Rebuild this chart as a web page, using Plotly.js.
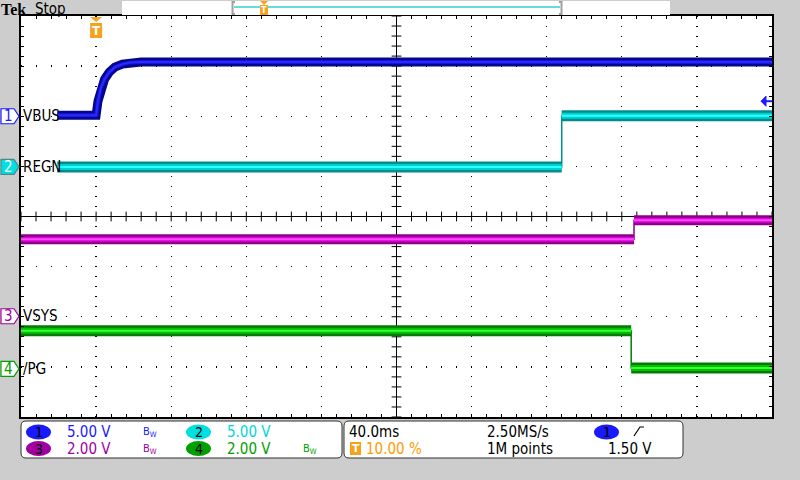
<!DOCTYPE html>
<html><head><meta charset="utf-8">
<script src="https://cdn.plot.ly/plotly-3.0.1.min.js"></script>
<style>html,body{margin:0;padding:0;background:#cdcdcd;}#chart{width:800px;height:480px;}</style>
</head><body><div id="chart"></div>
<script>
// ---- data ----
const channelNames = ['VBUS', 'REGN', 'VSYS', '/PG'];
const channelScales = [5, 5, 2, 2];            // V/div
const channelOffsets = [2.0, 0.99, -1.99, -3.04]; // ground position, divisions
const vbusTime = [-20.7, 0, 1, 2.5, 4.5, 7, 10, 14, 18, 24, 360];      // ms
const vbusVolts = [0.1, 0.1, 1.5, 2.8, 3.7, 4.4, 4.9, 5.2, 5.35, 5.4, 5.4];
const regnTime = [-20.7, 248, 248, 360];
const regnVolts = [0, 0, 5.1, 5.1];
const vsysTime = [-40, 286.5, 286.5, 360];
const vsysVolts = [3.07, 3.07, 3.83, 3.83];
const pgTime = [-40, 285, 285, 360];
const pgVolts = [1.52, 1.52, 0.04, 0.04];
const scaleLabels = ['5.00 V', '5.00 V', '2.00 V', '2.00 V'];
const timeScaleLabel = '40.0ms';
const sampleRateLabel = '2.50MS/s';
const triggerPosLabel = '10.00 %';
const recordLabel = '1M points';
const triggerLevelLabel = '1.50 V';
const triggerLevelVolts = 1.5;

// ---- styling ----
const outerColors = ['#06068a', '#008c8c', '#8c0084', '#067a06'];
const midColors   = ['#1414d8', '#00cfcf', '#dc00dc', '#00c000'];
const coreColors  = ['#2a2aff', '#30ffff', '#ff4cff', '#3cff3c'];
const bandWidths  = [9, 11, 10, 11];
const badgeColors = ['#1a1aff', '#00e0e0', '#a000a0', '#00a000'];
const textColors  = ['#1a1aff', '#00d8d8', '#a000a0', '#00a000'];
const F = 'Liberation Sans Narrow, DejaVu Sans Condensed, Liberation Sans, sans-serif';

const L = 21, R = 772, T = 16, B = 417;
const px = p => (p - L) / (R - L);
const py = p => (B - p) / (B - T);

const series = [[vbusTime, vbusVolts], [regnTime, regnVolts], [vsysTime, vsysVolts], [pgTime, pgVolts]];

function toDiv(ch, v) { return v.map(x => x / channelScales[ch] + channelOffsets[ch]); }
function splitJumps(t, y) {
  const xs = [], ys = [];
  for (let i = 0; i < t.length; i++) {
    if (i > 0 && t[i] === t[i - 1]) { xs.push(null); ys.push(null); }
    xs.push(t[i]); ys.push(y[i]);
  }
  return [xs, ys];
}

const traces = [];
// crosshair ticks
const tickX = [], tickY0 = [];
for (let k = 0; k <= 50; k++) { tickX.push(-40 + 8 * k); tickY0.push(0); }
const tickY = [], tickX0 = [];
for (let k = 0; k <= 40; k++) { tickY.push(-4 + 0.2 * k); tickX0.push(160); }
traces.push({x: tickX, y: tickY0, mode: 'markers', hoverinfo: 'skip', showlegend: false,
  marker: {symbol: 'line-ns', size: 7, line: {width: 1, color: '#000'}}});
traces.push({x: tickX0, y: tickY, mode: 'markers', hoverinfo: 'skip', showlegend: false,
  marker: {symbol: 'line-ew', size: 7, line: {width: 1, color: '#000'}}});

series.forEach((s, ch) => {
  const yd = toDiv(ch, s[1]);
  const [sx, sy] = splitJumps(s[0], yd);
  traces.push({x: s[0], y: yd, mode: 'lines', line: {color: outerColors[ch], width: 1.5}, hoverinfo: 'skip', showlegend: false});
  traces.push({x: sx, y: sy, mode: 'lines', line: {color: outerColors[ch], width: bandWidths[ch]}, hoverinfo: 'skip', showlegend: false, connectgaps: false});
  traces.push({x: sx, y: sy, mode: 'lines', line: {color: midColors[ch], width: bandWidths[ch] - 5}, hoverinfo: 'skip', showlegend: false, connectgaps: false});
  traces.push({x: sx, y: sy, mode: 'lines', line: {color: coreColors[ch], width: 2}, hoverinfo: 'skip', showlegend: false, connectgaps: false});
});

const shapes = [];
const annotations = [];
// center crosshair
shapes.push({type: 'line', xref: 'x', yref: 'paper', x0: 160, x1: 160, y0: 0, y1: 1, line: {color: '#000', width: 1}, layer: 'below'});
shapes.push({type: 'line', xref: 'paper', yref: 'y', x0: 0, x1: 1, y0: 0, y1: 0, line: {color: '#000', width: 1}, layer: 'below'});

// channel markers at left + labels
channelOffsets.forEach((off, ch) => {
  const yc = off;
  const h = 0.15; // divs half-height
  const x1 = px(1), x2 = px(14), x3 = px(19);
  const filled = ch === 1;
  shapes.push({type: 'path', xref: 'paper', yref: 'y',
    path: `M ${x1} ${yc + h} L ${x2} ${yc + h} L ${x3} ${yc} L ${x2} ${yc - h} L ${x1} ${yc - h} Z`,
    fillcolor: filled ? badgeColors[ch] : '#ffffff', line: {color: filled ? '#4a8a8a' : textColors[ch], width: 1.2}});
  annotations.push({xref: 'paper', yref: 'y', x: px(8), y: yc, text: String(ch + 1), showarrow: false,
    xanchor: 'center', yanchor: 'middle', font: {family: F, size: 15, color: filled ? '#ffffff' : textColors[ch]}});
  annotations.push({xref: 'paper', yref: 'y', x: px(21), y: yc, text: channelNames[ch], showarrow: false,
    xanchor: 'left', yanchor: 'middle', font: {family: F, size: 15, color: '#000'}});
});

// trigger marker top (at t=0)
const hw = 6 * 400 / 751;
shapes.push({type: 'path', xref: 'x', yref: 'paper',
  path: `M ${-hw} ${py(17)} L ${hw} ${py(17)} L 0 ${py(22)} Z`, fillcolor: '#f7a21b', line: {width: 0}});
shapes.push({type: 'rect', xref: 'x', yref: 'paper', x0: -hw, x1: hw, y0: py(38), y1: py(23),
  fillcolor: '#f7a21b', line: {width: 0}});
annotations.push({xref: 'x', yref: 'paper', x: 0, y: py(30.5), text: '<b>T</b>', showarrow: false,
  xanchor: 'center', yanchor: 'middle', font: {family: 'DejaVu Sans', size: 12, color: '#fff'}});

// trigger level arrow (ch1)
const tl = channelOffsets[0] + triggerLevelVolts / channelScales[0];
const ax = 400 / 751;
shapes.push({type: 'path', xref: 'x', yref: 'y',
  path: `M ${360 - 11 * ax} ${tl} L ${360 - 6 * ax} ${tl + 0.1} L ${360 - 6 * ax} ${tl - 0.1} Z`,
  fillcolor: '#1a1aff', line: {color: '#1a1aff', width: 1}});
shapes.push({type: 'line', xref: 'x', yref: 'y', x0: 360 - 6 * ax, x1: 360, y0: tl, y1: tl, line: {color: '#1a1aff', width: 2}});

// top bar
shapes.push({type: 'rect', xref: 'paper', yref: 'paper', x0: px(122), x1: px(670), y0: py(15), y1: py(1), fillcolor: '#ffffff', line: {width: 0}});
shapes.push({type: 'line', xref: 'paper', yref: 'paper', x0: px(234), x1: px(560), y0: py(7), y1: py(7), line: {color: '#30d0d0', width: 1.5}});
shapes.push({type: 'path', xref: 'paper', yref: 'paper', path: `M ${px(235)} ${py(2)} L ${px(232.5)} ${py(2)} L ${px(232.5)} ${py(14)} L ${px(235)} ${py(14)}`, line: {color: '#a0a0a0', width: 2}});
shapes.push({type: 'path', xref: 'paper', yref: 'paper', path: `M ${px(559)} ${py(2)} L ${px(561.5)} ${py(2)} L ${px(561.5)} ${py(14)} L ${px(559)} ${py(14)}`, line: {color: '#a0a0a0', width: 2}});
shapes.push({type: 'path', xref: 'paper', yref: 'paper', path: `M ${px(260)} ${py(1)} L ${px(268)} ${py(1)} L ${px(264)} ${py(5)} Z`, fillcolor: '#f7a21b', line: {width: 0}});
shapes.push({type: 'rect', xref: 'paper', yref: 'paper', x0: px(260), x1: px(268), y0: py(15), y1: py(5), fillcolor: '#f7a21b', line: {width: 0}});
annotations.push({xref: 'paper', yref: 'paper', x: px(264), y: py(10), text: '<b>T</b>', showarrow: false, xanchor: 'center', yanchor: 'middle', font: {family: 'DejaVu Sans', size: 8, color: '#fff'}});
annotations.push({xref: 'paper', yref: 'paper', x: px(0), y: py(9.5), text: '<b>Tek</b>', showarrow: false, xanchor: 'left', yanchor: 'middle', borderpad: 0, font: {family: 'Liberation Serif', size: 16, color: '#000'}});
annotations.push({xref: 'paper', yref: 'paper', x: px(34), y: py(9), text: 'Stop', showarrow: false, xanchor: 'left', yanchor: 'middle', borderpad: 0, font: {family: F, size: 15, color: '#000'}});

// bottom panels
function roundRect(x0, y0, x1, y1, r) {
  const X = v => px(v), Y = v => py(v);
  return `M ${X(x0 + r)} ${Y(y0)} L ${X(x1 - r)} ${Y(y0)} Q ${X(x1)} ${Y(y0)} ${X(x1)} ${Y(y0 + r)} L ${X(x1)} ${Y(y1 - r)} Q ${X(x1)} ${Y(y1)} ${X(x1 - r)} ${Y(y1)} L ${X(x0 + r)} ${Y(y1)} Q ${X(x0)} ${Y(y1)} ${X(x0)} ${Y(y1 - r)} L ${X(x0)} ${Y(y0 + r)} Q ${X(x0)} ${Y(y0)} ${X(x0 + r)} ${Y(y0)} Z`;
}
shapes.push({type: 'path', xref: 'paper', yref: 'paper', path: roundRect(21, 421, 342, 458, 5), fillcolor: '#ffffff', line: {color: '#333', width: 1}});
shapes.push({type: 'path', xref: 'paper', yref: 'paper', path: roundRect(344, 421, 683, 458, 5), fillcolor: '#ffffff', line: {color: '#333', width: 1}});

function badge(cx, cy, color, label) {
  shapes.push({type: 'circle', xref: 'paper', yref: 'paper', x0: px(cx - 12.5), x1: px(cx + 12.5), y0: py(cy + 7.5), y1: py(cy - 7.5), fillcolor: color, line: {width: 0}});
  annotations.push({xref: 'paper', yref: 'paper', x: px(cx), y: py(cy), text: label, showarrow: false, xanchor: 'center', yanchor: 'middle', borderpad: 0, font: {family: F, size: 14, color: '#000'}});
}
function txt(x, y, s, color, size) {
  annotations.push({xref: 'paper', yref: 'paper', x: px(x), y: py(y), text: s, showarrow: false, xanchor: 'left', yanchor: 'middle', borderpad: 0, font: {family: F, size: size || 15, color: color}});
}
const r1 = 432, r2 = 448.5;
badge(38.5, r1, badgeColors[0], '1');
badge(198.5, r1, badgeColors[1], '2');
badge(38.5, r2, badgeColors[2], '3');
badge(198.5, r2, badgeColors[3], '4');
txt(66, r1, scaleLabels[0], textColors[0]);
txt(226, r1, scaleLabels[1], textColors[1]);
txt(66, r2, scaleLabels[2], textColors[2]);
txt(226, r2, scaleLabels[3], textColors[3]);
txt(142, r1, 'B<sub>W</sub>', textColors[0], 11);
txt(142, r2, 'B<sub>W</sub>', textColors[2], 11);
txt(302, r2, 'B<sub>W</sub>', textColors[3], 11);

txt(348, r1, timeScaleLabel, '#000');
txt(486, r1, sampleRateLabel, '#000');
badge(606.5, r1, badgeColors[0], '1');
shapes.push({type: 'path', xref: 'paper', yref: 'paper', path: `M ${px(634)} ${py(436)} L ${px(640)} ${py(427)} L ${px(644)} ${py(427)}`, line: {color: '#000', width: 1.2}});
shapes.push({type: 'rect', xref: 'paper', yref: 'paper', x0: px(350), x1: px(361), y0: py(455), y1: py(442), fillcolor: '#f7a21b', line: {width: 0}});
annotations.push({xref: 'paper', yref: 'paper', x: px(355.5), y: py(448.5), text: '<b>T</b>', showarrow: false, xanchor: 'center', yanchor: 'middle', font: {family: 'DejaVu Sans', size: 11, color: '#fff'}});
txt(365, r2, triggerPosLabel, '#ff9a00');
txt(486, r2, recordLabel, '#000');
txt(607, r2, triggerLevelLabel, '#000');

const layout = {
  width: 800, height: 480,
  margin: {l: L, r: 800 - R, t: T, b: 480 - B, pad: 0},
  paper_bgcolor: '#cdcdcd', plot_bgcolor: '#ffffff',
  showlegend: false,
  xaxis: {range: [-40, 360], tick0: -40, dtick: 40, showgrid: true, gridcolor: '#000', gridwidth: 1.3, griddash: '1px,9px',
    zeroline: false, showline: true, linecolor: '#000', linewidth: 2, mirror: 'allticks', ticks: 'inside', ticklen: 3, tickcolor: '#000',
    minor: {dtick: 8, ticks: 'inside', ticklen: 3, tickcolor: '#000', showgrid: false}, showticklabels: false, fixedrange: true},
  yaxis: {range: [-4, 4], tick0: -4, dtick: 1, showgrid: true, gridcolor: '#000', gridwidth: 1.3, griddash: '1px,14px',
    zeroline: false, showline: true, linecolor: '#000', linewidth: 2, mirror: 'allticks', ticks: 'inside', ticklen: 3, tickcolor: '#000',
    minor: {dtick: 0.2, ticks: 'inside', ticklen: 3, tickcolor: '#000', showgrid: false}, showticklabels: false, fixedrange: true},
  shapes: shapes,
  annotations: annotations
};
Plotly.newPlot('chart', traces, layout, {staticPlot: true, displayModeBar: false});
</script></body></html>
